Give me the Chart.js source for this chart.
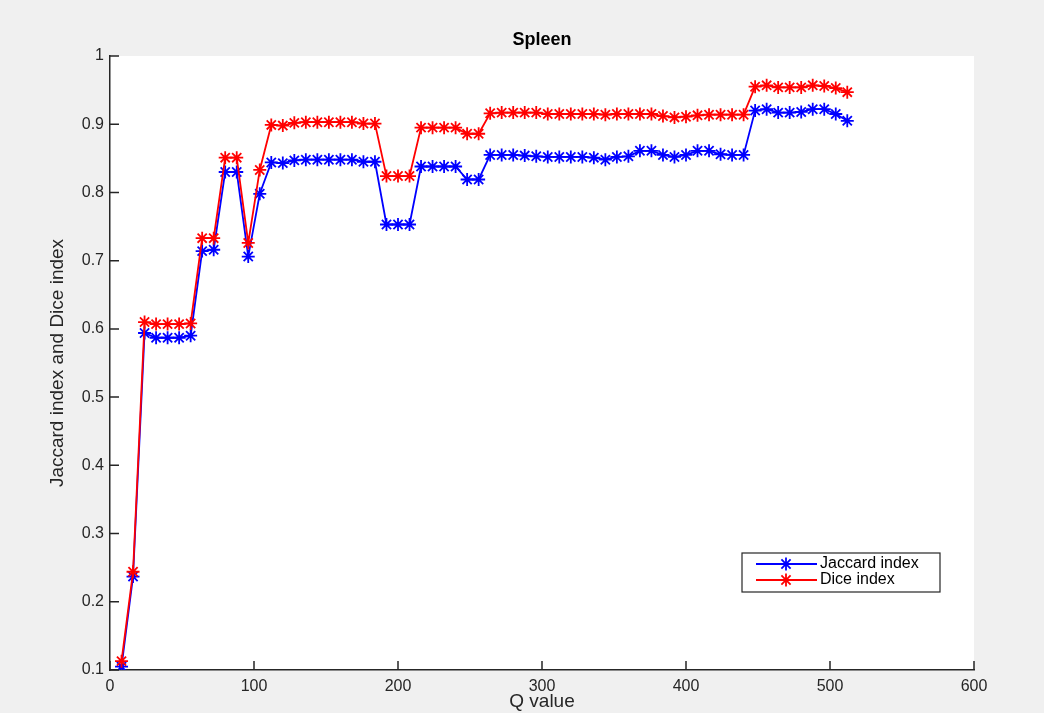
<!DOCTYPE html>
<html>
<head>
<meta charset="utf-8">
<script src="https://cdn.jsdelivr.net/npm/chart.js@4.4.1/dist/chart.umd.min.js"></script>
<style>
  body { margin: 0; background: #f0f0f0; }
  canvas { display: block; }
</style>
</head>
<body>
<canvas id="spleenChart" width="1044" height="713"></canvas>
<script>
const qValues = [8, 16, 24, 32, 40, 48, 56, 64, 72, 80, 88, 96, 104, 112, 120, 128,
    136, 144, 152, 160, 168, 176, 184, 192, 200, 208, 216, 224, 232, 240, 248, 256,
    264, 272, 280, 288, 296, 304, 312, 320, 328, 336, 344, 352, 360, 368, 376, 384,
    392, 400, 408, 416, 424, 432, 440, 448, 456, 464, 472, 480, 488, 496, 504, 512];

const jaccard = [0.105, 0.237, 0.594, 0.587, 0.587, 0.587, 0.590, 0.714, 0.716, 0.830, 0.830, 0.706, 0.798, 0.844, 0.843, 0.847,
    0.848, 0.848, 0.848, 0.848, 0.848, 0.845, 0.845, 0.753, 0.753, 0.753, 0.838, 0.838, 0.838, 0.838, 0.819, 0.819,
    0.855, 0.855, 0.855, 0.854, 0.853, 0.852, 0.852, 0.852, 0.852, 0.851, 0.848, 0.852, 0.853, 0.861, 0.861, 0.855,
    0.852, 0.855, 0.861, 0.861, 0.856, 0.855, 0.855, 0.920, 0.922, 0.917, 0.917, 0.918, 0.922, 0.922, 0.915, 0.905];

const dice = [0.113, 0.244, 0.610, 0.607, 0.607, 0.607, 0.608, 0.733, 0.733, 0.851, 0.851, 0.726, 0.833, 0.899, 0.898, 0.902,
    0.903, 0.903, 0.903, 0.903, 0.903, 0.901, 0.901, 0.824, 0.824, 0.824, 0.895, 0.895, 0.895, 0.895, 0.886, 0.886,
    0.916, 0.917, 0.917, 0.917, 0.917, 0.915, 0.915, 0.915, 0.915, 0.915, 0.914, 0.915, 0.915, 0.915, 0.915, 0.912,
    0.910, 0.911, 0.913, 0.914, 0.914, 0.914, 0.914, 0.955, 0.957, 0.954, 0.954, 0.954, 0.957, 0.956, 0.953, 0.947];

const seriesNames = ['Jaccard index', 'Dice index'];
const chartTitle = 'Spleen';
const xTitle = 'Q value';
const yTitle = 'Jaccard index and Dice index';

const axisColor = '#262626';
const fontFamily = '"Liberation Sans", Arial, Helvetica, sans-serif';

// white plot box on the grey figure
const plotBackground = {
    id: 'plotBackground',
    beforeDraw(chart) {
        const { ctx, chartArea: a } = chart;
        ctx.save();
        ctx.fillStyle = '#ffffff';
        ctx.fillRect(a.left, a.top, a.right - a.left, a.bottom - a.top);
        ctx.restore();
    }
};

// matlab style ticks pointing into the plot, plus title and legend box
const matlabDecor = {
    id: 'matlabDecor',
    afterDraw(chart) {
        const { ctx, chartArea: a } = chart;
        const xs = chart.scales.x;
        const ys = chart.scales.y;
        ctx.save();
        ctx.strokeStyle = axisColor;
        ctx.lineWidth = 1.5;
        ctx.beginPath();
        ys.ticks.forEach(t => {
            const py = ys.getPixelForValue(t.value);
            ctx.moveTo(a.left, py);
            ctx.lineTo(a.left + 9, py);
        });
        xs.ticks.forEach(t => {
            const px = xs.getPixelForValue(t.value);
            ctx.moveTo(px, a.bottom);
            ctx.lineTo(px, a.bottom - 9);
        });
        ctx.stroke();

        // title
        ctx.fillStyle = '#000000';
        ctx.font = 'bold 18px ' + fontFamily;
        ctx.textAlign = 'center';
        ctx.textBaseline = 'middle';
        ctx.fillText(chartTitle, (a.left + a.right) / 2, 40);

        // legend
        const bx = 742, by = 553, bw = 198, bh = 39;
        ctx.fillStyle = '#ffffff';
        ctx.fillRect(bx, by, bw, bh);
        ctx.strokeStyle = axisColor;
        ctx.lineWidth = 1.2;
        ctx.strokeRect(bx, by, bw, bh);
        ctx.font = '16px ' + fontFamily;
        ctx.textAlign = 'left';
        chart.data.datasets.forEach((ds, i) => {
            const ly = by + 11 + i * 16;
            ctx.strokeStyle = ds.borderColor;
            ctx.lineWidth = 1.8;
            ctx.beginPath();
            ctx.moveTo(bx + 14, ly);
            ctx.lineTo(bx + 75, ly);
            ctx.stroke();
            Chart.helpers.drawPoint(ctx, {
                pointStyle: 'star', radius: 6.5, borderWidth: 1.8
            }, bx + 44, ly);
            ctx.fillStyle = '#000000';
            ctx.fillText(ds.label, bx + 78, ly);
        });
        ctx.restore();
    }
};

const ctx = document.getElementById('spleenChart').getContext('2d');
new Chart(ctx, {
    type: 'line',
    data: {
        datasets: [
            {
                label: seriesNames[0],
                data: qValues.map((q, i) => ({ x: q, y: jaccard[i] })),
                borderColor: '#0000ff',
                backgroundColor: '#0000ff',
                borderWidth: 1.8,
                pointStyle: 'star',
                pointRadius: 6.5,
                pointBorderWidth: 1.8,
                order: 1
            },
            {
                label: seriesNames[1],
                data: qValues.map((q, i) => ({ x: q, y: dice[i] })),
                borderColor: '#ff0000',
                backgroundColor: '#ff0000',
                borderWidth: 1.8,
                pointStyle: 'star',
                pointRadius: 6.5,
                pointBorderWidth: 1.8,
                order: 0
            }
        ]
    },
    options: {
        responsive: false,
        animation: false,
        devicePixelRatio: 1,
        layout: { padding: { left: 0, right: 70, top: 56, bottom: 0 } },
        plugins: {
            legend: { display: false },
            title: { display: false },
            tooltip: { enabled: false }
        },
        scales: {
            x: {
                type: 'linear',
                min: 0,
                max: 600,
                ticks: { stepSize: 100, padding: 7, color: axisColor, font: { family: fontFamily, size: 16 } },
                grid: { display: false, drawTicks: false },
                border: { display: true, color: axisColor, width: 1.5 },
                title: {
                    display: true, text: xTitle, color: axisColor,
                    font: { family: fontFamily, size: 19 },
                    padding: { top: 0, bottom: 0 }
                },
                afterFit: s => { s.height = 43; }
            },
            y: {
                type: 'linear',
                min: 0.1,
                max: 1,
                ticks: {
                    stepSize: 0.1, padding: 6, color: axisColor,
                    font: { family: fontFamily, size: 16 },
                    callback: v => String(Number(v.toFixed(1)))
                },
                grid: { display: false, drawTicks: false },
                border: { display: true, color: axisColor, width: 1.5 },
                title: {
                    display: true, text: yTitle, color: axisColor,
                    font: { family: fontFamily, size: 19 },
                    padding: { top: 46, bottom: 0 }
                },
                afterFit: s => { s.width = 110; }
            }
        }
    },
    plugins: [plotBackground, matlabDecor]
});
</script>
</body>
</html>
